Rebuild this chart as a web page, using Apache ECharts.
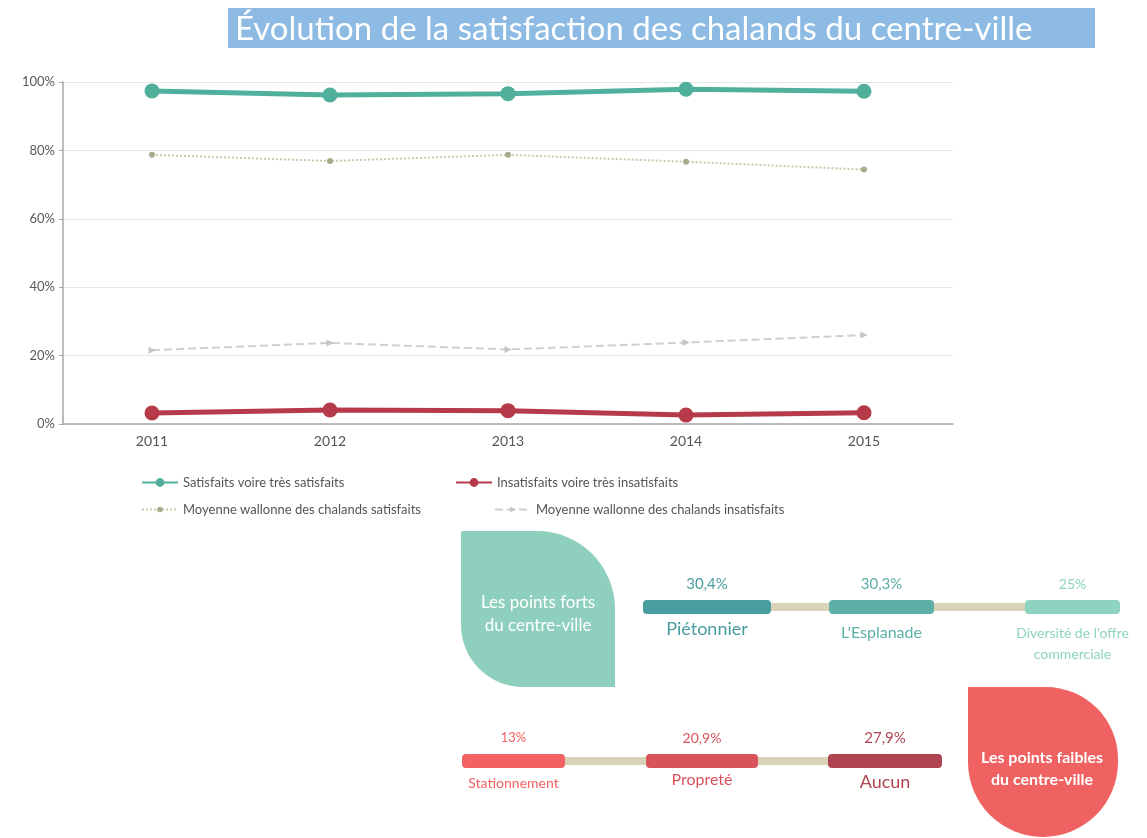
<!DOCTYPE html>
<html lang="fr">
<head>
    <meta charset="UTF-8">
    <title>Évolution de la satisfaction des chalands</title>
    <style>
        body { margin: 0; overflow: hidden; background: #fff; }
        #chart { width: 1147px; height: 838px; }
    </style>
</head>
<body>
    <div id="chart"></div>
    <script src="https://cdn.jsdelivr.net/npm/echarts@6/dist/echarts.min.js"></script>
    <script>
        // données
        var annees = ['2011', '2012', '2013', '2014', '2015'];
        var satisfaits = [97.4, 96.2, 96.6, 97.9, 97.3];
        var insatisfaits = [3.2, 4.1, 3.9, 2.6, 3.3];
        var moyenneSatisfaits = [78.7, 76.9, 78.7, 76.7, 74.4];
        var moyenneInsatisfaits = [21.6, 23.7, 21.8, 23.8, 26.0];
        var yTicks = [0, 20, 40, 60, 80, 100];

        var fortsNoms = ['Piétonnier', "L'Esplanade", "Diversité de l'offre\ncommerciale"];
        var fortsValeurs = [30.4, 30.3, 25];
        var faiblesNoms = ['Stationnement', 'Propreté', 'Aucun'];
        var faiblesValeurs = [13, 20.9, 27.9];

        var nomsSeries = [
            'Satisfaits voire très satisfaits',
            'Insatisfaits voire très insatisfaits',
            'Moyenne wallonne des chalands satisfaits',
            'Moyenne wallonne des chalands insatisfaits'
        ];

        var police = 'Lato, "Open Sans", sans-serif';

        function pct(v) {
            return String(v).replace('.', ',') + '%';
        }

        // dessine les segments d'une frise (style seulement, position via l'axe)
        function frise(largeurs, couleurs, tailleNom, tailleVal, noms, decalNom) {
            return function (params, api) {
                var i = api.value(0);
                var n = noms.length;
                var p = api.coord([i, 0]);
                var cy = params.coordSys.y + params.coordSys.height / 2;
                var w = largeurs[i];
                var x0 = i === 0 ? p[0] : (i === n - 1 ? p[0] - w : p[0] - w / 2);
                var enfants = [];
                if (i === 0) {
                    var fin = api.coord([n - 1, 0]);
                    enfants.push({
                        type: 'rect', z2: 0,
                        shape: { x: p[0], y: cy - 4, width: fin[0] - p[0], height: 8 },
                        style: { fill: '#d9d3b8' }
                    });
                }
                enfants.push({
                    type: 'rect', z2: 10,
                    shape: { x: x0, y: cy - 7, width: w, height: 14, r: 4 },
                    style: { fill: couleurs[i] }
                });
                enfants.push({
                    type: 'text', z2: 10,
                    x: x0 + w / 2, y: cy - 23,
                    style: {
                        text: pct(api.value(1)), fill: couleurs[i],
                        fontSize: tailleVal[i], fontFamily: police,
                        align: 'center', verticalAlign: 'middle'
                    }
                });
                enfants.push({
                    type: 'text', z2: 10,
                    x: x0 + w / 2, y: cy + decalNom[i],
                    style: {
                        text: noms[i], fill: couleurs[i],
                        fontSize: tailleNom[i], fontFamily: police, lineHeight: 21,
                        align: 'center', verticalAlign: 'top'
                    }
                });
                return { type: 'group', children: enfants };
            };
        }

        var myChart = echarts.init(document.getElementById('chart'));

        function legende(nom, left, top, hauteur) {
            return {
                data: [nom], left: left, top: top,
                itemWidth: 36, itemHeight: hauteur,
                textStyle: { color: '#555', fontSize: 13, fontFamily: police }
            };
        }

        var option = {
            backgroundColor: '#fff',
            animation: false,
            textStyle: { fontFamily: police },
            graphic: [
                {
                    type: 'group', left: 228, top: 8,
                    children: [
                        { type: 'rect', shape: { x: 0, y: 0, width: 867, height: 40 }, style: { fill: '#8dbbe4' } },
                        {
                            type: 'text', x: 7, y: 21,
                            style: {
                                text: 'Évolution de la satisfaction des chalands du centre-ville',
                                fill: '#fff', fontSize: 33, fontFamily: police,
                                verticalAlign: 'middle'
                            }
                        }
                    ]
                },
                {
                    type: 'group', left: 461, top: 531,
                    children: [
                        { type: 'rect', shape: { x: 0, y: 0, width: 154, height: 156, r: [2, 78, 0, 62] }, style: { fill: '#8ed0bd' } },
                        {
                            type: 'text', x: 77, y: 83,
                            style: {
                                text: 'Les points forts\ndu centre-ville', fill: '#fff',
                                fontSize: 17, lineHeight: 23, fontFamily: police,
                                align: 'center', verticalAlign: 'middle'
                            }
                        }
                    ]
                },
                {
                    type: 'group', left: 968, top: 687,
                    children: [
                        { type: 'rect', shape: { x: 0, y: 0, width: 150, height: 150, r: [0, 72, 75, 75] }, style: { fill: '#f06262' } },
                        {
                            type: 'text', x: 74, y: 82,
                            style: {
                                text: 'Les points faibles\ndu centre-ville', fill: '#fff',
                                fontSize: 16, fontWeight: 'bold', lineHeight: 22, fontFamily: police,
                                align: 'center', verticalAlign: 'middle'
                            }
                        }
                    ]
                }
            ],
            legend: [
                legende(nomsSeries[0], 136, 471, 11),
                legende(nomsSeries[1], 450, 471, 11),
                legende(nomsSeries[2], 136, 498, 7),
                legende(nomsSeries[3], 489, 498, 7)
            ],
            grid: [
                { left: 63, right: 194, top: 82, height: 342 },
                { left: 643, width: 477, top: 600, height: 14 },
                { left: 462, width: 480, top: 754, height: 14 }
            ],
            xAxis: [
                {
                    gridIndex: 0, type: 'category', data: annees,
                    axisLine: { lineStyle: { color: '#a6a6a6', width: 1.5 } },
                    axisTick: { length: 4, lineStyle: { color: '#a6a6a6' } },
                    axisLabel: { color: '#555', fontSize: 14, margin: 10 }
                },
                { gridIndex: 1, type: 'category', data: fortsNoms, boundaryGap: false, show: false },
                { gridIndex: 2, type: 'category', data: faiblesNoms, boundaryGap: false, show: false }
            ],
            yAxis: [
                {
                    gridIndex: 0, type: 'value', min: yTicks[0], max: yTicks[yTicks.length - 1], interval: 20,
                    axisLine: { show: true, lineStyle: { color: '#a6a6a6', width: 1.5 } },
                    axisTick: { show: true, length: 4, lineStyle: { color: '#a6a6a6' } },
                    axisLabel: { color: '#595959', fontSize: 13, formatter: '{value}%' },
                    splitLine: { lineStyle: { color: '#e6e6e6' } }
                },
                { gridIndex: 1, type: 'value', min: 0, max: 100, show: false },
                { gridIndex: 2, type: 'value', min: 0, max: 100, show: false }
            ],
            series: [
                {
                    name: nomsSeries[2], type: 'line', data: moyenneSatisfaits,
                    symbol: 'circle', symbolSize: 6,
                    lineStyle: { type: 'dotted', width: 2, color: '#cbc7aa' },
                    itemStyle: { color: '#a9a98c' }
                },
                {
                    name: nomsSeries[3], type: 'line', data: moyenneInsatisfaits,
                    symbol: 'triangle', symbolSize: 7, symbolRotate: -90,
                    lineStyle: { type: 'dashed', width: 2, color: '#cfcfcf' },
                    itemStyle: { color: '#c4c4c4' }
                },
                {
                    name: nomsSeries[0], type: 'line', data: satisfaits,
                    symbol: 'circle', symbolSize: 15,
                    lineStyle: { width: 5, color: '#50b09c' },
                    itemStyle: { color: '#50b09c' }
                },
                {
                    name: nomsSeries[1], type: 'line', data: insatisfaits,
                    symbol: 'circle', symbolSize: 15,
                    lineStyle: { width: 5, color: '#b73a4a' },
                    itemStyle: { color: '#b73a4a' }
                },
                {
                    type: 'custom', xAxisIndex: 1, yAxisIndex: 1,
                    renderItem: frise([128, 105, 95], ['#4a9d9f', '#5cb0a6', '#8dd3bf'], [18, 16, 14], [15, 15, 14], fortsNoms, [12, 15, 16]),
                    data: fortsValeurs.map(function (v, i) { return [i, v]; }),
                    encode: { x: 0, y: 1 }
                },
                {
                    type: 'custom', xAxisIndex: 2, yAxisIndex: 2,
                    renderItem: frise([103, 112, 114], ['#f26262', '#d9535b', '#b04552'], [14, 16, 18], [13, 14, 15], faiblesNoms, [12, 8, 11]),
                    data: faiblesValeurs.map(function (v, i) { return [i, v]; }),
                    encode: { x: 0, y: 1 }
                }
            ]
        };

        myChart.setOption(option);
    </script>
</body>
</html>
